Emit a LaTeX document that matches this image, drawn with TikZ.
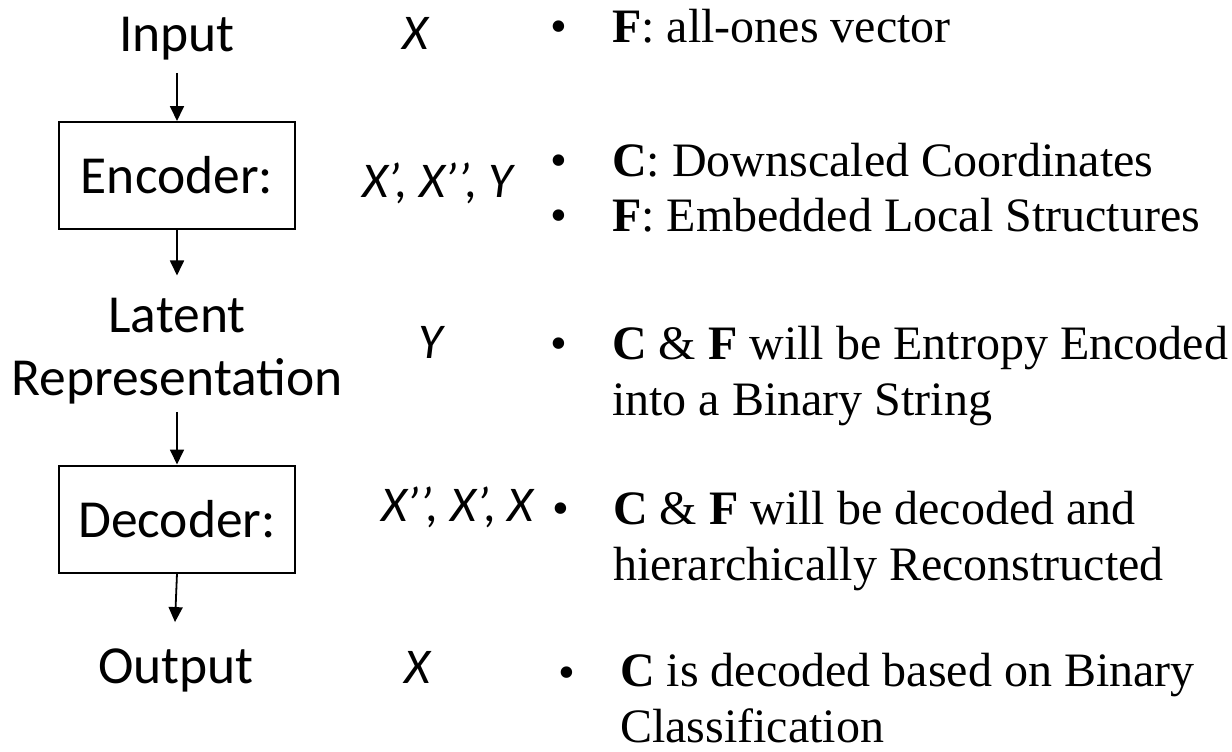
\documentclass[tikz,border=0pt]{standalone}
\usepackage{fontspec}
\setmainfont{Liberation Serif}
\newfontfamily\carl{Carlito}
\usetikzlibrary{arrows.meta}
\begin{document}
\begin{tikzpicture}[x=1pt,y=-1pt,
  lbl/.style={font=\carl\fontsize{53.5}{63}\selectfont, inner sep=0pt, align=center},
  var/.style={font=\carl\itshape\fontsize{50}{58}\selectfont, inner sep=0pt},
  txt/.style={font=\fontsize{48}{56}\selectfont, inner sep=0pt, anchor=base west, align=left},
  bul/.style={font=\fontsize{48}{56}\selectfont, inner sep=0pt, anchor=base},
  blockbox/.style={draw, line width=2pt, minimum width=236pt, minimum height=107pt, inner sep=0pt, font=\carl\fontsize{53.5}{63}\selectfont},
  arr/.style={line width=1.8pt, -{Triangle[length=15pt,width=14pt]}}
]
\fill[white] (0,0) rectangle (1232,752);
\useasboundingbox (0,0) rectangle (1232,752);

% left column
\node[lbl, anchor=base] (input) at (177,52) {Input};
\node[blockbox] (enc) at (177,175.5) {Encoder:};
\node[lbl, anchor=base] (latent) at (177,395) {Latent\\Representation};
\node[blockbox] (dec) at (177,519) {Decoder:};
\node[lbl, anchor=base] (output) at (176,683) {Output};

\draw[arr] ([yshift=-12pt]input.south) -- (enc.north);
\draw[arr] (enc.south) -- ([yshift=22pt]latent.north);
\draw[arr] ([yshift=-8pt]latent.south) -- (dec.north);
\draw[arr] (dec.south) -- ([xshift=-1pt,yshift=26pt]output.north);

% variables
\node[var, anchor=base] (v1) at (415,50) {X};
\node[var, anchor=base west] (v2) at (362,197) {X’, X’’, Y};
\node[var, anchor=base] (v3) at (431,358) {Y};
\node[var, anchor=base west] (v4) at (381,521) {X’’, X’, X};
\node[var, anchor=base] (v5) at (417,683) {X};

% bullets
\node[bul] (b1) at (559,43) {•};
\node[bul] (b2) at (559,176) {•};
\node[bul] (b3) at (559,231) {•};
\node[bul] (b4) at (559,359) {•};
\node[bul] (b5) at (561,524) {•};
\node[bul] (b6) at (567,688) {•};

\node[txt] (t1) at (612,43) {\textbf{F}: all-ones vector};
\node[txt] (t2) at (612,176) {\textbf{C}: Downscaled Coordinates};
\node[txt] (t3) at (612,231) {\textbf{F}: Embedded Local Structures};
\node[txt] (t4) at (612,415) {\textbf{C} \& \textbf{F} will be Entropy Encoded\\into a Binary String};
\node[txt] (t5) at (613,580) {\textbf{C} \& \textbf{F} will be decoded and\\hierarchically Reconstructed};
\node[txt, text depth=0pt] (t6) at (620,742) {\textbf{C} is decoded based on Binary\\Classification};
\end{tikzpicture}
\end{document}
